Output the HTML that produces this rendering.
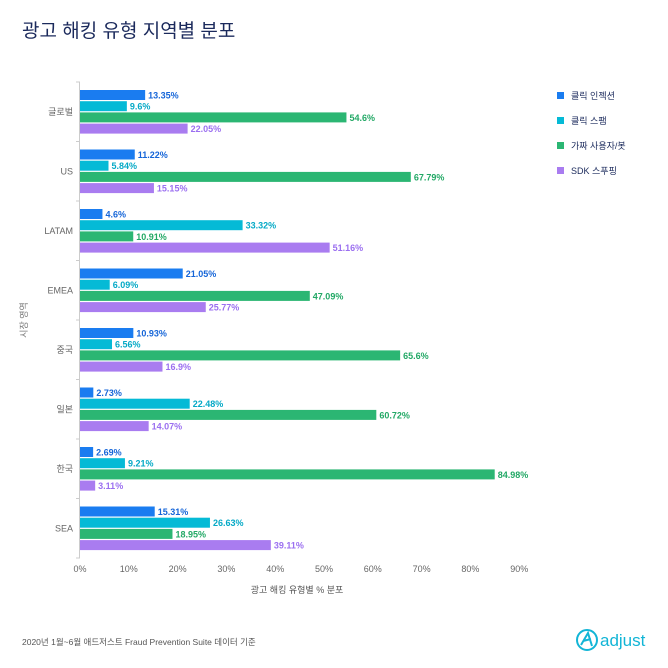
<!DOCTYPE html>
<html><head><meta charset="utf-8"><style>
body{margin:0;background:#fff;font-family:"Liberation Sans","Noto Sans CJK KR",sans-serif;}
#wrap{position:relative;width:668px;height:668px;overflow:hidden;}
</style></head><body>
<div id="wrap">
<svg id="svg" width="668" height="668" xmlns="http://www.w3.org/2000/svg" font-family="Liberation Sans, Noto Sans CJK KR, sans-serif">
<text x="22" y="37" font-size="19" fill="#1b2a5c">광고 해킹 유형 지역별 분포</text>
<g id="legend"></g>
<g id="plot"></g>
<text x="297" y="593" font-size="9" fill="#555" text-anchor="middle">광고 해킹 유형별 % 분포</text>
<text transform="translate(27,320) rotate(-90)" font-size="9" fill="#777" text-anchor="middle">시장 영역</text>
<text x="22" y="645" font-size="8.5" fill="#555">2020년 1월~6월 애드저스트 Fraud Prevention Suite 데이터 기준</text>
<g>
<circle cx="587" cy="640" r="10" fill="none" stroke="#12b5d6" stroke-width="2"/>
<path d="M581 645 L588 633 L592 646 M583 641 L591 639" fill="none" stroke="#12b5d6" stroke-width="2"/>
<text x="600" y="646" font-size="17" fill="#12b5d6">adjust</text>
</g>
</svg>
</div>
<script>
const categories=["글로벌","US","LATAM","EMEA","중국","일본","한국","SEA"];
const seriesNames=["클릭 인젝션","클릭 스팸","가짜 사용자/봇","SDK 스푸핑"];
const clickInjection=[13.35,11.22,4.6,21.05,10.93,2.73,2.69,15.31];
const clickSpam=[9.6,5.84,33.32,6.09,6.56,22.48,9.21,26.63];
const fakeUsers=[54.6,67.79,10.91,47.09,65.6,60.72,84.98,18.95];
const sdkSpoofing=[22.05,15.15,51.16,25.77,16.9,14.07,3.11,39.11];
const ticks=[0,10,20,30,40,50,60,70,80,90];
const series=[clickInjection,clickSpam,fakeUsers,sdkSpoofing];
const colors=["#1a7cf0","#05bad6","#2bb673","#a97cf0"];
const textColors=["#1565d8","#04a9c6","#22a865","#9b6ff0"];
const NS="http://www.w3.org/2000/svg";
const X0=80,SC=4.88,Y0=82,BAND=59.5;
const xs=v=>X0+v*SC;
const plot=document.getElementById('plot');
function mk(tag,attrs,parent){const e=document.createElementNS(NS,tag);for(const k in attrs)e.setAttribute(k,attrs[k]);parent.appendChild(e);return e;}
const ax=mk('line',{x1:79.5,x2:79.5,y1:Y0,y2:Y0+BAND*8,stroke:'#ccc'},plot);


for(let i=0;i<=8;i++){const t=mk('line',{x1:76,x2:80,y1:Y0+BAND*i,y2:Y0+BAND*i,stroke:'#ccc'},plot);

}
categories.forEach((c,i)=>{
 const gy=Y0+BAND*i;
 const lab=mk('text',{x:73,y:gy+BAND/2+3,'font-size':9,fill:'#666','text-anchor':'end'},plot);lab.textContent=c;
 
 
 series.forEach((s,j)=>{
  const y=gy+8+j*11.2;
  const r=mk('rect',{x:X0,y:y,width:xs(s[i])-X0,height:10,fill:colors[j]},plot);
  
  
  const t=mk('text',{x:xs(s[i])+3,y:y+8.5,'font-size':9,'font-weight':'bold',fill:textColors[j]},plot);t.textContent=s[i]+'%';
  
  
 });
});
ticks.forEach(v=>{const t=mk('text',{x:xs(v),y:572,'font-size':9,fill:'#666','text-anchor':'middle'},plot);t.textContent=v+'%';

});
const lg=document.getElementById('legend');
seriesNames.forEach((n,j)=>{const y=96+j*25;
 const r=mk('rect',{x:557,y:y-4,width:7,height:7,fill:colors[j]},lg);
 
 
 const t=mk('text',{x:571,y:y+3,'font-size':9,fill:'#1b2a5c'},lg);t.textContent=n;
 
 });
</script>
</body></html>
